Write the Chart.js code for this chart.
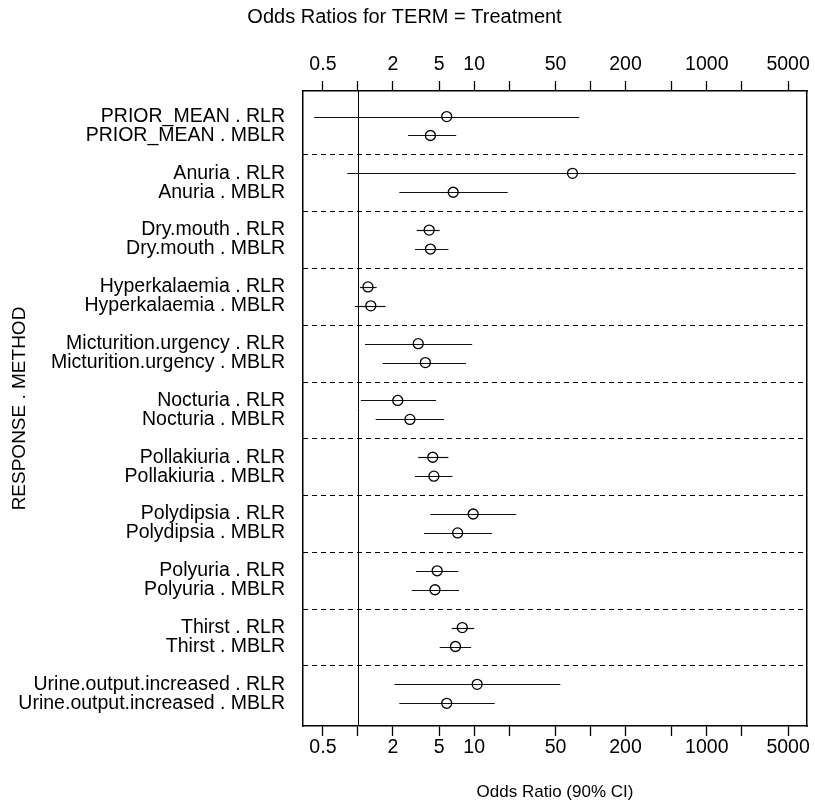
<!DOCTYPE html>
<html>
<head>
<meta charset="utf-8">
<script src="https://cdn.jsdelivr.net/npm/chart.js@4"></script>
<style>
  body { margin: 0; background: #fff; }
  #wrap { width: 815px; height: 807px; }
</style>
</head>
<body>
<div id="wrap"><canvas id="forest"></canvas></div>
<script>
// Responses (top to bottom), each with an RLR and MBLR estimate
const responses = ['PRIOR_MEAN', 'Anuria', 'Dry.mouth', 'Hyperkalaemia', 'Micturition.urgency',
  'Nocturia', 'Pollakiuria', 'Polydipsia', 'Polyuria', 'Thirst', 'Urine.output.increased'];
const methods = ['RLR', 'MBLR'];

// odds ratios and 90% CI, order: [RLR, MBLR] per response
const oddsRatio = [5.8, 4.2, 70, 6.6, 4.1, 4.2, 1.22, 1.29, 3.3, 3.8, 2.2, 2.8,
  4.4, 4.5, 9.8, 7.2, 4.8, 4.6, 7.9, 6.9, 10.6, 5.8];
const ciLow = [0.42, 2.7, 0.81, 2.27, 3.2, 3.1, 1.04, 0.94, 1.15, 1.63, 1.06, 1.42,
  3.3, 3.1, 4.2, 3.7, 3.16, 2.9, 6.4, 5.05, 2.06, 2.27];
const ciHigh = [80, 7.0, 5800, 19.4, 5.05, 6.0, 1.45, 1.73, 9.6, 8.5, 4.7, 5.5,
  6.0, 6.5, 23, 14.2, 7.3, 7.4, 10, 9.4, 55, 15];

const tickValues = [0.5, 1, 2, 5, 10, 20, 50, 100, 200, 500, 1000, 2000, 5000];
const tickLabels = ['0.5', '', '2', '5', '10', '', '50', '', '200', '', '1000', '', '5000'];

const rowLabels = [];
const rowPos = [];
responses.forEach((r, g) => {
  methods.forEach((m, k) => {
    rowLabels.push(r + ' . ' + m);
    rowPos.push(g * 3 + k);
  });
});

const points = oddsRatio.map((v, i) => ({ x: v, y: rowPos[i] }));
const FONT = 'Liberation Sans, Arial, sans-serif';
const X_MIN = 0.337, X_MAX = 7280;

// draws CI segments, the reference line at OR = 1 and dashed group separators
const forestLines = {
  id: 'forestLines',
  beforeDatasetsDraw(chart) {
    const { ctx, chartArea: a, scales: { x, y } } = chart;
    ctx.save();
    ctx.strokeStyle = '#000';
    ctx.lineWidth = 1;
    ctx.setLineDash([5, 4]);
    for (let g = 1; g < responses.length; g++) {
      const py = Math.round(y.getPixelForValue(g * 3 - 1)) + 0.5;
      ctx.beginPath(); ctx.moveTo(a.left, py); ctx.lineTo(a.right, py); ctx.stroke();
    }
    ctx.setLineDash([]);
    const p1 = Math.round(x.getPixelForValue(1)) + 0.5;
    ctx.beginPath(); ctx.moveTo(p1, a.top); ctx.lineTo(p1, a.bottom); ctx.stroke();
    ctx.strokeStyle = '#111';
    ctx.lineWidth = 1.2;
    for (let i = 0; i < oddsRatio.length; i++) {
      const py = Math.round(y.getPixelForValue(rowPos[i])) + 0.5;
      ctx.beginPath();
      ctx.moveTo(x.getPixelForValue(ciLow[i]), py);
      ctx.lineTo(x.getPixelForValue(ciHigh[i]), py);
      ctx.stroke();
    }
    ctx.restore();
  }
};

// keep the requested range exactly (log scale otherwise widens it)
function fixRange(s) {
  s.min = X_MIN; s.max = X_MAX;
  s.ticks = tickValues.map(v => ({ value: v }));
}

const tickCb = (v) => { const i = tickValues.indexOf(v); return i >= 0 ? tickLabels[i] : ''; };
const xGrid = { display: true, drawOnChartArea: false, drawTicks: true, tickLength: 10,
  tickColor: '#000', tickWidth: 1.3 };

new Chart(document.getElementById('forest'), {
  type: 'scatter',
  data: {
    datasets: [{
      data: points,
      pointStyle: 'circle',
      pointRadius: 5,
      pointBackgroundColor: 'rgba(255,255,255,0)',
      pointBorderColor: '#000',
      pointBorderWidth: 1.3
    }]
  },
  options: {
    responsive: true,
    maintainAspectRatio: false,
    animation: false,
    layout: { padding: { left: 0, right: 6, top: 0, bottom: 0 } },
    plugins: {
      legend: { display: false },
      tooltip: { enabled: false },
      title: {
        display: true, text: 'Odds Ratios for TERM = Treatment', color: '#000',
        font: { family: FONT, size: 20, weight: 'normal' }, padding: { top: 5, bottom: 7 }
      }
    },
    scales: {
      x: {
        type: 'logarithmic', position: 'bottom', min: X_MIN, max: X_MAX,
        afterBuildTicks: fixRange,
        afterFit: (s) => { s.height = 81; },
        ticks: { color: '#000', font: { family: FONT, size: 19.5 }, maxRotation: 0,
          autoSkip: false, padding: 0, callback: tickCb },
        grid: xGrid,
        border: { color: '#000', width: 1.5 },
        title: { display: true, text: 'Odds Ratio (90% CI)', color: '#000',
          font: { family: FONT, size: 17 }, padding: { top: 16 } }
      },
      x2: {
        type: 'logarithmic', position: 'top', min: X_MIN, max: X_MAX,
        afterBuildTicks: fixRange,
        afterFit: (s) => { s.height = 55; },
        ticks: { color: '#000', font: { family: FONT, size: 19.5 }, maxRotation: 0,
          autoSkip: false, padding: 5, callback: tickCb },
        grid: xGrid,
        border: { color: '#000', width: 1.5 }
      },
      y: {
        type: 'linear', reverse: true, min: -1.35, max: 32.2,
        afterBuildTicks: (s) => { s.ticks = rowPos.map(v => ({ value: v })); },
        afterFit: (s) => { s.width = 303; },
        ticks: {
          color: '#000', font: { family: FONT, size: 19.5 }, autoSkip: false, padding: 18,
          callback: (v) => { const i = rowPos.indexOf(v); return i >= 0 ? rowLabels[i] : ''; }
        },
        grid: { display: false, drawTicks: false },
        border: { color: '#000', width: 1.5 },
        title: { display: true, text: 'RESPONSE . METHOD', color: '#000',
          font: { family: FONT, size: 19 }, padding: { top: 8, bottom: 0 } }
      },
      y2: {
        type: 'linear', position: 'right', display: true, min: -1.35, max: 32.2,
        afterFit: (s) => { s.width = 0; },
        ticks: { display: false },
        grid: { display: false, drawTicks: false },
        border: { color: '#000', width: 1.5 }
      }
    }
  },
  plugins: [forestLines]
});
</script>
</body>
</html>
